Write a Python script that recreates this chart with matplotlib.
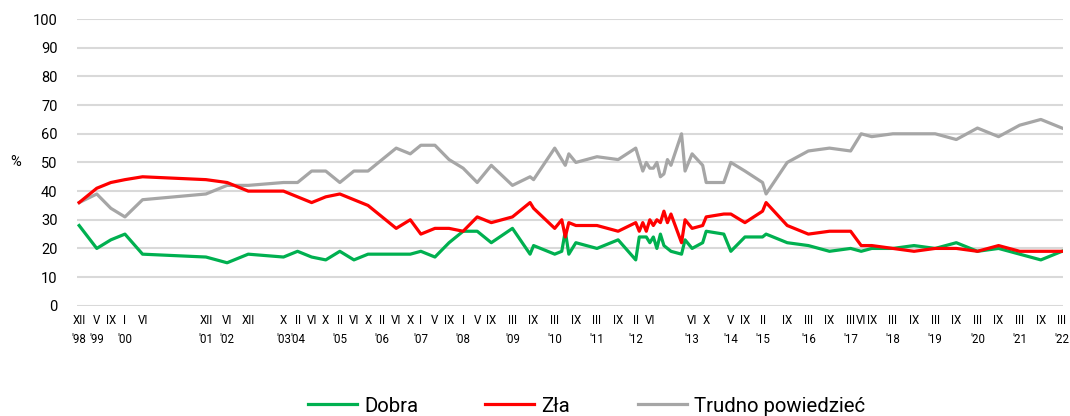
import matplotlib.pyplot as plt

# survey dates (year-month) and answers in %
dates = ["1998-12", "1999-05", "1999-09", "2000-01", "2000-06", "2001-12", "2002-06", "2002-12",
         "2003-10", "2004-02", "2004-06", "2004-10", "2005-02", "2005-06", "2005-10", "2006-02",
         "2006-06", "2006-10", "2007-01", "2007-05", "2007-09", "2008-01", "2008-05", "2008-09",
         "2009-03", "2009-08", "2009-09", "2010-03", "2010-05", "2010-06", "2010-07", "2010-09",
         "2011-03", "2011-09", "2012-02", "2012-03", "2012-04", "2012-05", "2012-06", "2012-07",
         "2012-08", "2012-09", "2012-10", "2012-11", "2012-12", "2013-03", "2013-04", "2013-06",
         "2013-09", "2013-10", "2014-03", "2014-05", "2014-09", "2015-02", "2015-03", "2015-09",
         "2016-03", "2016-09", "2017-03", "2017-06", "2017-09", "2018-03", "2018-09", "2019-03",
         "2019-09", "2020-03", "2020-09", "2021-03", "2021-09", "2022-03"]

dobra = [28, 20, 23, 25, 18, 17, 15, 18,
         17, 19, 17, 16, 19, 16, 18, 18,
         18, 18, 19, 17, 22, 26, 26, 22,
         27, 18, 21, 18, 19, 26, 18, 22,
         20, 23, 16, 24, 24, 24, 22, 24,
         20, 25, 21, 20, 19, 18, 23, 20,
         22, 26, 25, 19, 24, 24, 25, 22,
         21, 19, 20, 19, 20, 20, 21, 20,
         22, 19, 20, 18, 16, 19]

zla = [36, 41, 43, 44, 45, 44, 43, 40,
       40, 38, 36, 38, 39, 37, 35, 31,
       27, 30, 25, 27, 27, 26, 31, 29,
       31, 36, 34, 27, 30, 24, 29, 28,
       28, 26, 29, 26, 29, 26, 30, 28,
       30, 29, 33, 29, 32, 22, 30, 27,
       28, 31, 32, 32, 29, 33, 36, 28,
       25, 26, 26, 21, 21, 20, 19, 20,
       20, 19, 21, 19, 19, 19]

trudno = [36, 39, 34, 31, 37, 39, 42, 42,
          43, 43, 47, 47, 43, 47, 47, 51,
          55, 53, 56, 56, 51, 48, 43, 49,
          42, 45, 44, 55, 51, 49, 53, 50,
          52, 51, 55, 51, 47, 50, 48, 48,
          50, 45, 46, 51, 49, 60, 47, 53,
          49, 43, 43, 50, 47, 43, 39, 50,
          54, 55, 54, 60, 59, 60, 60, 60,
          58, 62, 59, 63, 65, 62]

# x axis labels (month in roman numerals, year under the first one of the year)
tick_dates = ["1998-12", "1999-05", "1999-09", "2000-01", "2000-06", "2001-12", "2002-06", "2002-12",
              "2003-10", "2004-02", "2004-06", "2004-10", "2005-02", "2005-06", "2005-10", "2006-02",
              "2006-06", "2006-10", "2007-01", "2007-05", "2007-09", "2008-01", "2008-05", "2008-09",
              "2009-03", "2009-09", "2010-03", "2010-09", "2011-03", "2011-09", "2012-02", "2012-06",
              "2013-06", "2013-10", "2014-05", "2014-09", "2015-02", "2015-09", "2016-03", "2016-09",
              "2017-03", "2017-06", "2017-09", "2018-03", "2018-09", "2019-03", "2019-09", "2020-03",
              "2020-09", "2021-03", "2021-09", "2022-03"]
tick_labels = ["XII\n'98", "V\n'99", "IX", "I\n'00", "VI", "XII\n'01", "VI\n'02", "XII",
               "X\n'03", "II\n'04", "VI", "X", "II\n'05", "VI", "X", "II\n'06",
               "VI", "X", "I\n'07", "V", "IX", "I\n'08", "V", "IX",
               "III\n'09", "IX", "III\n'10", "IX", "III\n'11", "IX", "II\n'12", "VI",
               "VI\n'13", "X", "V\n'14", "IX", "II\n'15", "IX", "III\n'16", "IX",
               "III\n'17", "VI", "IX", "III\n'18", "IX", "III\n'19", "IX", "III\n'20",
               "IX", "III\n'21", "IX", "III\n'22"]


def months(d):
    # months since XII 1998
    y, m = d.split("-")
    return (int(y) - 1998) * 12 + int(m) - 12


x = [months(d) for d in dates]
xt = [months(d) for d in tick_dates]

plt.rcParams['font.family'] = ['Roboto', 'DejaVu Sans']

fig, ax = plt.subplots(figsize=(10.7, 4.16), dpi=100)
fig.subplots_adjust(left=0.072, right=0.9935, bottom=0.265, top=0.954)

ax.plot(x, trudno, color='#a6a6a6', lw=2.3, label='Trudno powiedzieć', zorder=3)
ax.plot(x, dobra, color='#00b050', lw=2.3, label='Dobra', zorder=4)
ax.plot(x, zla, color='#ff0000', lw=2.3, label='Zła', zorder=5)

ax.set_xlim(-0.6, 279.3)
ax.set_ylim(0, 100)
ax.set_yticks(range(0, 101, 10))
ax.set_xticks(xt)
ax.set_xticklabels(tick_labels, fontsize=8.3)
for lbl in ax.get_xticklabels():
    lbl.set_linespacing(1.6)
ax.tick_params(axis='x', length=0, pad=6)
ax.tick_params(axis='y', length=0, pad=14, labelsize=10.5)

ax.grid(axis='y', color='#d9d9d9', lw=1.5)
ax.set_axisbelow(True)
for s in ax.spines.values():
    s.set_visible(False)

ax.text(-0.062, 0.5, '%', transform=ax.transAxes, ha='center', va='center', fontsize=10.5)

# legend order: Dobra, Zła, Trudno powiedzieć
h, l = ax.get_legend_handles_labels()
fig.legend([h[1], h[2], h[0]], [l[1], l[2], l[0]], loc='center', bbox_to_anchor=(0.548, 0.024),
           ncol=3, frameon=False, fontsize=14.7, handlelength=2.4, handletextpad=0.35,
           columnspacing=3.3)

plt.savefig('out.png')
